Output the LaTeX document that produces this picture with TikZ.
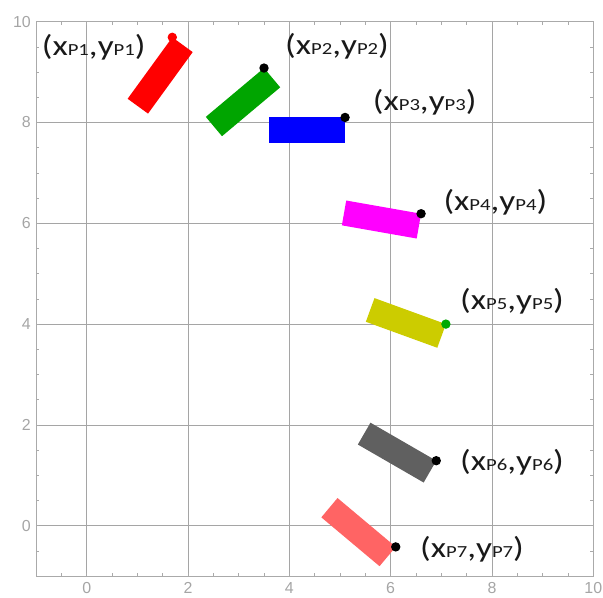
\documentclass[tikz,border=0pt]{standalone}
\usepackage{fontspec}
\setmainfont{Carlito}
\newfontfamily\axisfont{Liberation Sans}
\definecolor{gridgray}{RGB}{165,165,165}
\definecolor{framegray}{RGB}{170,170,170}
\definecolor{labelgray}{RGB}{165,165,165}
\definecolor{barred}{RGB}{255,0,0}
\definecolor{bargreen}{RGB}{0,165,0}
\definecolor{barblue}{RGB}{0,0,255}
\definecolor{barmagenta}{RGB}{255,0,255}
\definecolor{baryellow}{RGB}{204,204,0}
\definecolor{bargray}{RGB}{96,96,96}
\definecolor{barsalmon}{RGB}{255,100,100}
\definecolor{dotgreen}{RGB}{0,170,0}
\newcommand{\mylab}[1]{\scalebox{1.22}[1]{(x{\fontsize{17}{17}\selectfont P#1},y{\fontsize{17}{17}\selectfont P#1})}}
\begin{document}
\begin{tikzpicture}[x=50.66bp,y=50.4bp,
  gridline/.style={draw=gridgray, line width=0.8bp},
  frameline/.style={draw=framegray, line width=0.8bp},
  tickline/.style={draw=framegray, line width=0.6bp},
  axislabel/.style={font=\axisfont\fontsize{16}{16}\selectfont, text=labelgray, inner sep=0pt},
  plabel/.style={font=\fontsize{29}{29}\selectfont, anchor=west, inner sep=0pt, text=black!90},
  dot/.style={circle, fill=black, inner sep=0pt, minimum size=9.4bp}]
\useasboundingbox (-1.711,-1.415) rectangle (10.191,10.430);
% grid
\foreach \v in {0,2,...,8} {
  \draw[gridline] (\v,-1) -- (\v,10);
  \draw[gridline] (-1,\v) -- (10,\v);
}
% frame and ticks
\draw[frameline] (-1,-1) rectangle (10,10);
\foreach \v in {-0.5,0,...,9.5} {
  \draw[tickline] (\v,-1) -- ++(0pt,3bp);
  \draw[tickline] (\v,10) -- ++(0pt,-3bp);
  \draw[tickline] (-1,\v) -- ++(3bp,0pt);
  \draw[tickline] (10,\v) -- ++(-3bp,0pt);
}
% axis labels
\foreach \v in {0,2,...,10} {
  \node[axislabel] (xl\v) at (\v,-1.235) {\v};
  \node[axislabel, anchor=east] (yl\v) at (-1.10,\v) {\v};
}
% reference points
\coordinate (P1) at (1.69,9.69);
\coordinate (P2) at (3.50,9.08);
\coordinate (P3) at (5.10,8.10);
\coordinate (P4) at (6.60,6.19);
\coordinate (P5) at (7.09,4.00);
\coordinate (P6) at (6.90,1.29);
\coordinate (P7) at (6.10,-0.42);
% bars
\fill[barred, shift={(P1)}, rotate=54] (-1.5,-0.5) rectangle (0,0);
\fill[bargreen, shift={(P2)}, rotate=40] (-1.5,-0.5) rectangle (0,0);
\fill[barblue, shift={(P3)}] (-1.5,-0.5) rectangle (0,0);
\fill[barmagenta, shift={(P4)}, rotate=-10] (-1.5,-0.5) rectangle (0,0);
\fill[baryellow, shift={(P5)}, rotate=-20] (-1.5,-0.5) rectangle (0,0);
\fill[bargray, shift={(P6)}, rotate=-30] (-1.5,-0.5) rectangle (0,0);
\fill[barsalmon, shift={(P7)}, rotate=-40] (-1.5,-0.5) rectangle (0,0);
% dots
\node[dot, fill=barred] (d1) at (P1) {};
\node[dot] (d2) at (P2) {};
\node[dot] (d3) at (P3) {};
\node[dot] (d4) at (P4) {};
\node[dot, fill=dotgreen] (d5) at (P5) {};
\node[dot] (d6) at (P6) {};
\node[dot] (d7) at (P7) {};
% labels
\node[plabel] (l1) at (-0.889,9.494) {\mylab{1}};
\node[plabel] (l2) at (3.914,9.504) {\mylab{2}};
\node[plabel] (l3) at (5.645,8.407) {\mylab{3}};
\node[plabel] (l4) at (7.039,6.413) {\mylab{4}};
\node[plabel] (l5) at (7.369,4.444) {\mylab{5}};
\node[plabel] (l6) at (7.369,1.264) {\mylab{6}};
\node[plabel] (l7) at (6.579,-0.462) {\mylab{7}};
\end{tikzpicture}
\end{document}
